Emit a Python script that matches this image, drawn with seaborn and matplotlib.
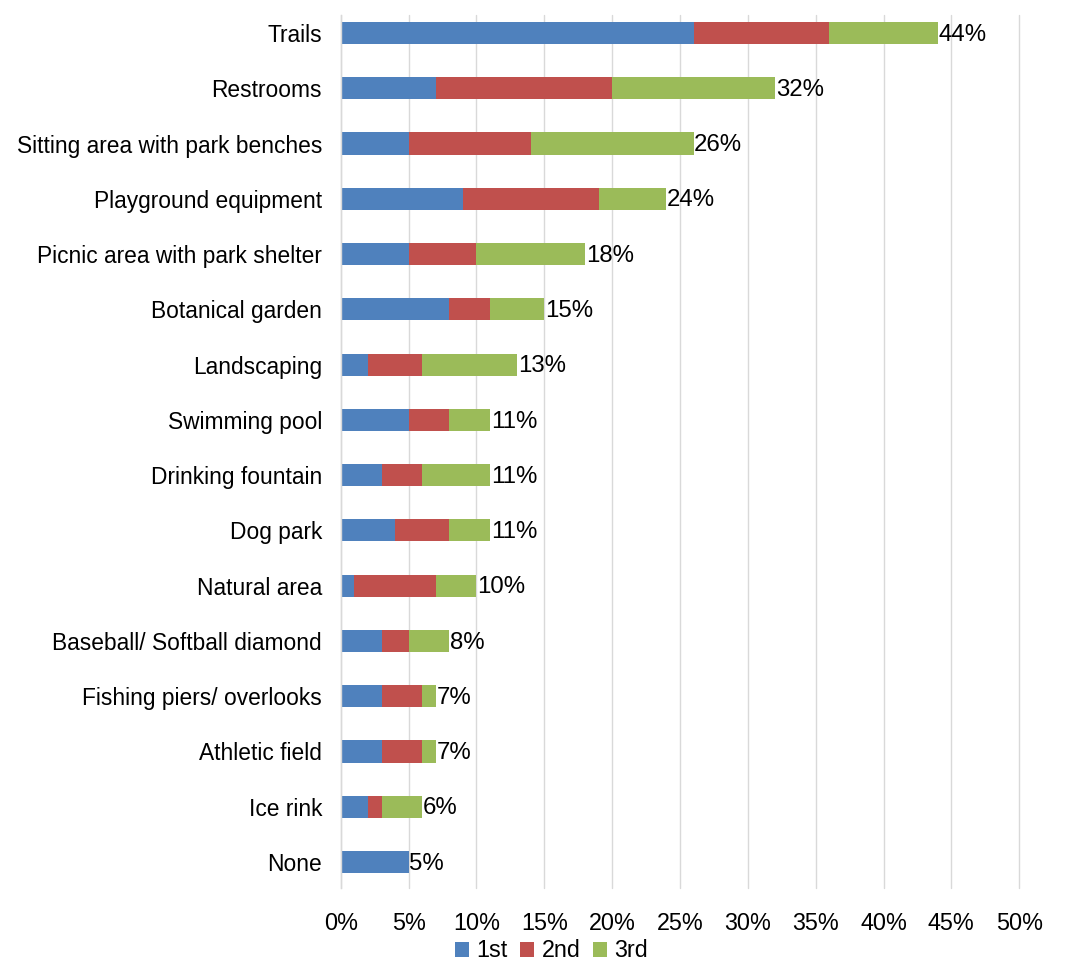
import matplotlib
matplotlib.use("Agg")
import matplotlib.pyplot as plt
import seaborn as sns
import pandas as pd
import numpy as np
from matplotlib.patches import Patch

categories = ["Trails", "Restrooms", "Sitting area with park benches", "Playground equipment",
              "Picnic area with park shelter", "Botanical garden", "Landscaping", "Swimming pool",
              "Drinking fountain", "Dog park", "Natural area", "Baseball/ Softball diamond",
              "Fishing piers/ overlooks", "Athletic field", "Ice rink", "None"]
first = [26, 7, 5, 9, 5, 8, 2, 5, 3, 4, 1, 3, 3, 3, 2, 5]
second = [10, 13, 9, 10, 5, 3, 4, 3, 3, 4, 6, 2, 3, 3, 1, 0]
third = [8, 12, 12, 5, 8, 4, 7, 3, 5, 3, 3, 3, 1, 1, 3, 0]
totals = [44, 32, 26, 24, 18, 15, 13, 11, 11, 11, 10, 8, 7, 7, 6, 5]
series_names = ["1st", "2nd", "3rd"]
colors = ["#4F81BD", "#C0504D", "#9BBB59"]

df = pd.DataFrame({"cat": categories, "s1": first, "s2": second, "s3": third})
df["c1"] = df["s1"]
df["c2"] = df["s1"] + df["s2"]
df["c3"] = df["s1"] + df["s2"] + df["s3"]

sns.set_style("white")
plt.rcParams["font.family"] = ["Liberation Sans", "DejaVu Sans"]
plt.rcParams["text.color"] = "black"
FS = 16.4

fig = plt.figure(figsize=(10.65, 9.67), dpi=100)
ax = fig.add_axes([0.320, 0.0817, 0.637, 0.9028])

for col, c in zip(["c3", "c2", "c1"], colors[::-1]):
    sns.barplot(data=df, x=col, y="cat", orient="h", color=c, width=0.4,
                ax=ax, saturation=1, edgecolor="none", linewidth=0)

for i, t in enumerate(totals):
    ax.text(t + 0.05, i + 0.03, f"{t}%", va="center", ha="left", fontsize=17.3, color="black")

ax.set_xlim(0, 50)
ax.set_ylim(15.47, -0.326)
ax.set_xticks(np.arange(0, 51, 5))
ax.set_xticklabels([f"{v}%" for v in range(0, 51, 5)], fontsize=16.8, color="black")
ax.tick_params(axis="y", labelsize=FS, length=0, pad=13.5, labelcolor="black")
ax.tick_params(axis="x", length=0, pad=17, labelcolor="black")
ax.set_xlabel("")
ax.set_ylabel("")
ax.grid(axis="x", color="#D9D9D9", linewidth=1)
for gl in ax.get_xgridlines():
    gl.set_clip_on(False)
ax.set_axisbelow(True)
for s in ["top", "right", "bottom"]:
    ax.spines[s].set_visible(False)
ax.spines["left"].set_color("#D9D9D9")
ax.spines["left"].set_linewidth(1)

handles = [Patch(facecolor=c, edgecolor="none", label=n) for c, n in zip(colors, series_names)]
leg = fig.legend(handles=handles, loc="lower center", bbox_to_anchor=(0.518, -0.017), ncol=3,
                 frameon=False, fontsize=16.8, handlelength=0.6, handleheight=0.6,
                 handletextpad=0.3, columnspacing=0.55)
for t in leg.get_texts():
    t.set_color("black")

fig.savefig("out.png", dpi=100)
